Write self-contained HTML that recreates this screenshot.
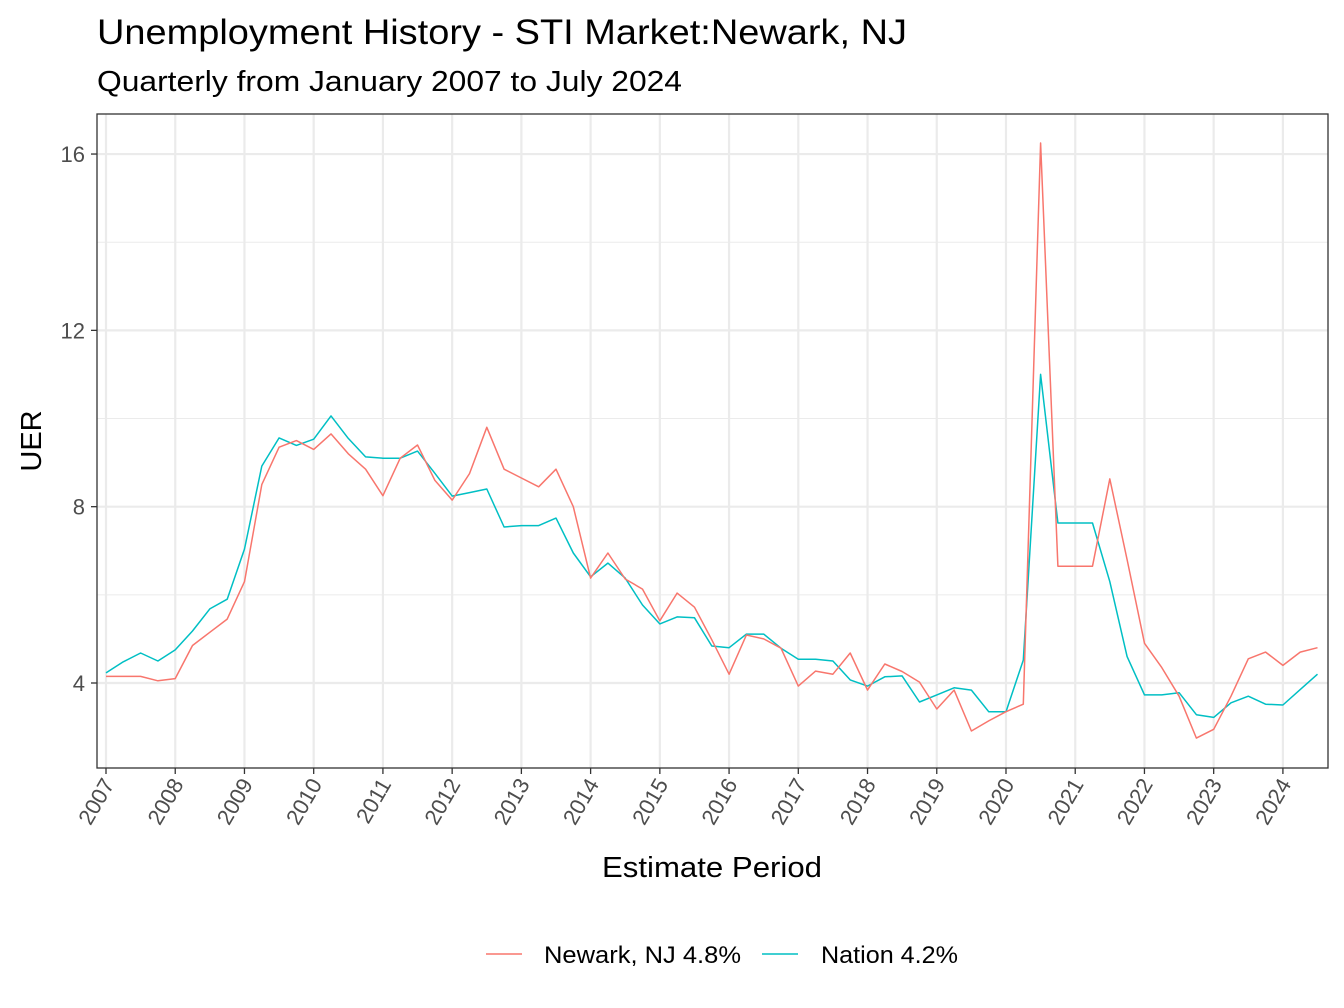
<!DOCTYPE html>
<html><head><meta charset="utf-8"><style>
body{margin:0;background:#fff;}
svg{display:block;font-family:"Liberation Sans",Arial,sans-serif;}
</style></head><body>
<svg id="chart" width="1344" height="1008">
<text x="97" y="44" font-size="35" textLength="810" lengthAdjust="spacingAndGlyphs" fill="#000">Unemployment History - STI Market:Newark, NJ</text>
<text x="97" y="91" font-size="29" textLength="585" lengthAdjust="spacingAndGlyphs" fill="#000">Quarterly from January 2007 to July 2024</text>
<g id="grid"></g>
<g id="series"></g>
<rect x="97" y="114" width="1231" height="654" fill="none" stroke="#333" stroke-width="1.3"/>
<g id="yticks"></g>
<g id="xticks"></g>
<text x="602" y="877" font-size="29" textLength="220" lengthAdjust="spacingAndGlyphs">Estimate Period</text>
<text transform="translate(41,441) rotate(-90)" font-size="29" text-anchor="middle">UER</text>
<g>
<g>
<line x1="486" y1="954" x2="522" y2="954" stroke="#F8766D" stroke-width="1.5"/>
<text x="544" y="963" font-size="24" textLength="197" lengthAdjust="spacingAndGlyphs">Newark, NJ 4.8%</text></g>
<g>
<line x1="762" y1="954" x2="798" y2="954" stroke="#00BFC4" stroke-width="1.5"/>
<text x="821" y="963" font-size="24" textLength="137" lengthAdjust="spacingAndGlyphs">Nation 4.2%</text></g>
</g>
</svg>
<script>
const years = [2007,2008,2009,2010,2011,2012,2013,2014,2015,2016,2017,2018,2019,2020,2021,2022,2023,2024];
const yTicks = [4,8,12,16];
const yMinor = [6,10,14];
const newark = [4.15,4.15,4.15,4.05, 4.1,4.85,5.15,5.45, 6.3,8.5,9.35,9.5, 9.3,9.65,9.2,8.85, 8.25,9.1,9.4,8.6, 8.15,8.75,9.8,8.85, 8.65,8.45,8.85,8.0, 6.38,6.95,6.36,6.13, 5.41,6.04,5.72,4.98, 4.2,5.09,5.0,4.79, 3.93,4.27,4.2,4.68, 3.84,4.43,4.26,4.02, 3.41,3.84,2.91,3.14, 3.35,3.52,16.25,6.65, 6.65,6.65,8.63,6.8, 4.9,4.35,3.7,2.75, 2.95,3.7,4.55,4.7, 4.4,4.7,4.8];
const nation = [4.23,4.48,4.68,4.5, 4.75,5.18,5.68,5.9, 7.04,8.92,9.56,9.39, 9.53,10.06,9.55,9.13, 9.1,9.1,9.26,8.76, 8.24,8.32,8.4,7.54, 7.57,7.57,7.74,6.95, 6.41,6.72,6.38,5.77, 5.34,5.5,5.48,4.84, 4.8,5.11,5.11,4.79, 4.54,4.54,4.5,4.07, 3.93,4.14,4.16,3.57, 3.73,3.89,3.84,3.35, 3.35,4.52,11.0,7.63, 7.63,7.63,6.3,4.6, 3.73,3.73,3.78,3.28, 3.22,3.55,3.7,3.52, 3.5,3.85,4.2];
const startYear = 2007;

const NS='http://www.w3.org/2000/svg';
const L=97,R=1328,T=114,B=768;
function xs(t){return 106+(t-2007)*69.23;}
function ys(v){return 683-(v-4)*44.08;}
function mk(tag,attrs,parent){const e=document.createElementNS(NS,tag);for(const k in attrs)e.setAttribute(k,attrs[k]);parent.appendChild(e);return e;}
const grid=document.getElementById('grid'),yt=document.getElementById('yticks'),xt=document.getElementById('xticks'),ser=document.getElementById('series');
mk('rect',{x:L,y:T,width:R-L,height:B-T,fill:'#fff'},grid);
yMinor.forEach(v=>{const l=mk('line',{x1:L,x2:R,y1:ys(v),y2:ys(v),stroke:'#ebebeb','stroke-width':1},grid);

});
yTicks.forEach(v=>{const l=mk('line',{x1:L,x2:R,y1:ys(v),y2:ys(v),stroke:'#ebebeb','stroke-width':2.2},grid);


mk('line',{x1:L-6,x2:L,y1:ys(v),y2:ys(v),stroke:'#333','stroke-width':1.3},yt);
const t=mk('text',{x:L-12,y:ys(v)+8,'font-size':22,'text-anchor':'end',fill:'#4d4d4d'},yt);t.textContent=v;

});
years.forEach(yr=>{const x=xs(yr);const l=mk('line',{x1:x,x2:x,y1:T,y2:B,stroke:'#ebebeb','stroke-width':2.2},grid);


mk('line',{x1:x,x2:x,y1:B,y2:B+6,stroke:'#333','stroke-width':1.3},xt);
const t=mk('text',{transform:`translate(${x+9},${B+16}) rotate(-60)`,'font-size':22,'text-anchor':'end',fill:'#4d4d4d'},xt);t.textContent=yr;

});
function line(vals,color,name){const d=vals.map((v,i)=>(i?'L':'M')+xs(startYear+i/4).toFixed(1)+','+ys(v).toFixed(1)).join(' ');
const p=mk('path',{d:d,fill:'none',stroke:color,'stroke-width':1.5,'stroke-linejoin':'round'},ser);

}
line(nation,'#00BFC4','nation-line');
line(newark,'#F8766D','newark-line');
</script>
</body></html>
